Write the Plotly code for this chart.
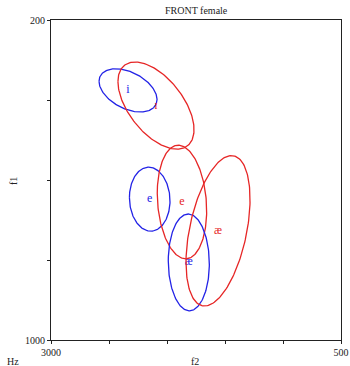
import numpy as np
import plotly.graph_objects as go

# Vowel formant distributions (front vowels, female speakers)
vowels = ["i", "ɪ", "e", "e", "æ", "æ"]
groups = ["blue", "red", "blue", "red", "blue", "red"]
f2_mean = [2336, 2095, 2149, 1871, 1812, 1560]
f1_mean = [376, 414, 648, 655, 806, 727]
f2_spread = [250, 328, 175, 213, 177, 276]
f1_spread = [54, 109, 80, 142, 121, 188]
f1_f2_corr = [-0.42, -0.55, -0.05, -0.15, -0.03, 0.42]

x_ticks = [3000, 2500, 2000, 1500, 1000, 500]
x_tick_text = ["3000", "", "", "", "", "500"]
y_ticks = [200, 400, 600, 800, 1000]
y_tick_text = ["200", "", "", "", "1000"]

colors = {"blue": "#2323e6", "red": "#e62626"}
serif = "Liberation Serif"

fig = go.Figure()
t = np.linspace(0, 2 * np.pi, 200)
for v, g, cx, cy, sx, sy, r in zip(vowels, groups, f2_mean, f1_mean,
                                    f2_spread, f1_spread, f1_f2_corr):
    ex = cx + sx * np.cos(t)
    ey = cy + sy * (r * np.cos(t) + np.sqrt(1 - r * r) * np.sin(t))
    fig.add_trace(go.Scatter(x=ex, y=ey, mode="lines",
                             line=dict(color=colors[g], width=1.3),
                             hoverinfo="skip", showlegend=False))
    fig.add_trace(go.Scatter(x=[cx], y=[cy], mode="text", text=[v],
                             textfont=dict(family=serif, size=12, color=colors[g]),
                             textposition="middle center",
                             hoverinfo="skip", showlegend=False))

axis_common = dict(showgrid=False, zeroline=False, showline=True, mirror=True,
                   linecolor="#222", linewidth=1, ticks="outside", ticklen=3,
                   tickcolor="#222", automargin=False,
                   tickfont=dict(family=serif, size=10, color="#222"))

L, R, T, B = 51, 9, 20, 26
W, H = 350, 366

fig.update_layout(
    width=W, height=H,
    margin=dict(l=L, r=R, t=T, b=B),
    paper_bgcolor="white", plot_bgcolor="white",
    xaxis=dict(range=[3000, 500], tickvals=x_ticks, ticktext=x_tick_text,
               **axis_common),
    yaxis=dict(range=[1000, 200], tickvals=y_ticks, ticktext=y_tick_text,
               **axis_common),
)


def px_note(text, x, y, angle=0):
    fig.add_annotation(text=text, x=(x - L) / (W - L - R),
                       y=1 - (y - T) / (H - T - B), xref="paper", yref="paper",
                       xanchor="center", yanchor="middle",
                       showarrow=False, textangle=angle,
                       font=dict(family=serif, size=10, color="#222"))


px_note("FRONT female", 196, 10)
px_note("f2", 195, 361)
px_note("Hz", 13, 361)
px_note("f1", 13, 181, -90)

fig.write_html("out.html")
